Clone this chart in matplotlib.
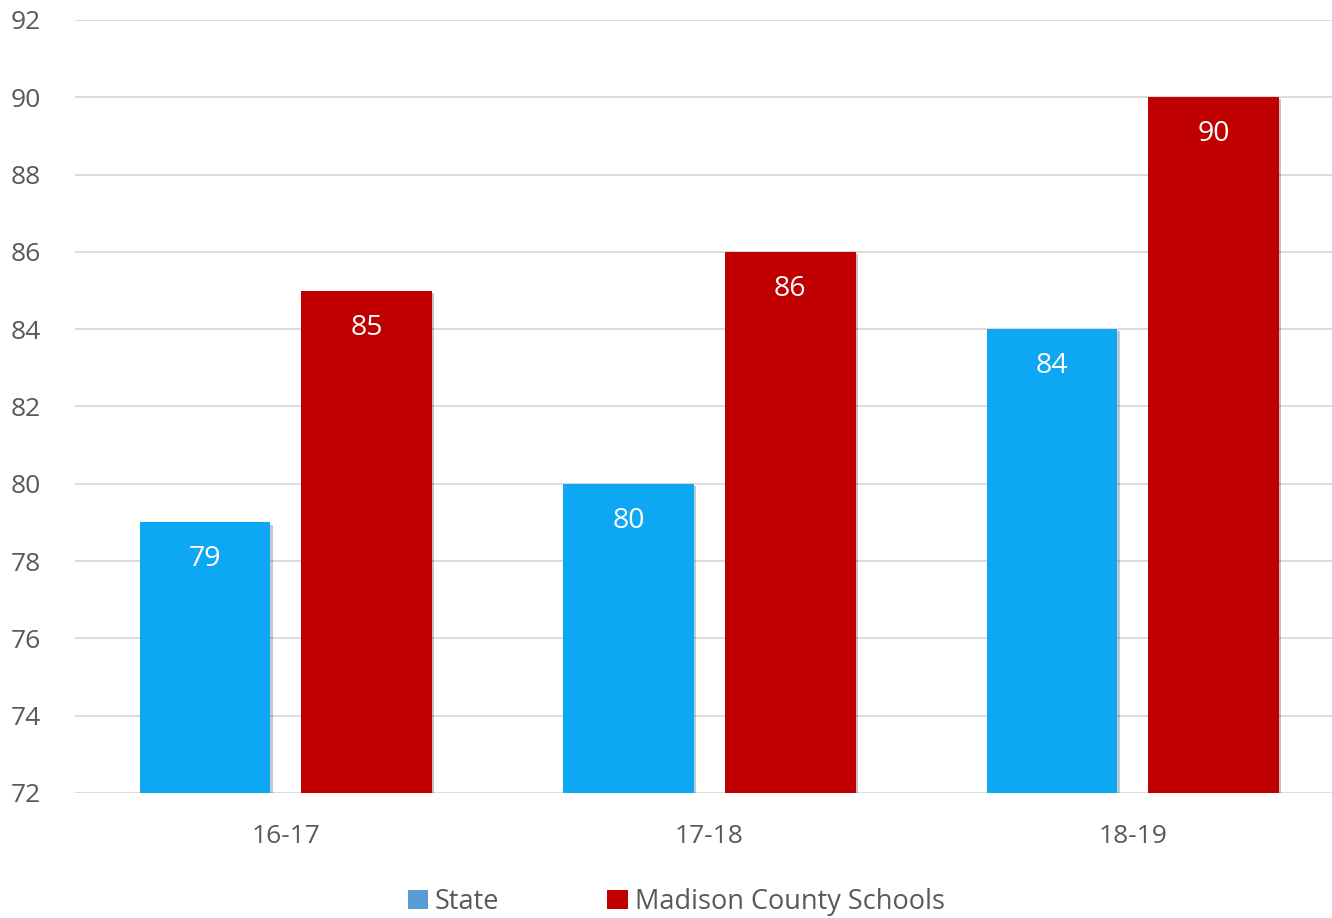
import matplotlib
matplotlib.use("Agg")
import matplotlib.pyplot as plt
import matplotlib.patheffects as pe
from matplotlib.patches import Patch
import numpy as np

categories = ["16-17", "17-18", "18-19"]
state = [79, 80, 84]
madison = [85, 86, 90]
yticks = [72, 74, 76, 78, 80, 82, 84, 86, 88, 90, 92]

plt.rcParams['font.family'] = ['Open Sans', 'DejaVu Sans']

W, H = 1332, 918
fig = plt.figure(figsize=(W/100, H/100), dpi=100)
left, right, top, bottom = 75, 1332, 20, 793
ax = fig.add_axes([left/W, 1-bottom/H, (right-left)/W, (bottom-top)/H])

x = np.arange(len(categories))
bw = 0.309
off = 0.191
blue = "#0EA7F3"
red = "#C00000"
shadow = [pe.SimplePatchShadow(offset=(1.5, -1.5), alpha=0.25), pe.Normal()]
ax.bar(x - off, [s - 72 for s in state], bw, bottom=72, color=blue, zorder=3, path_effects=shadow)
ax.bar(x + off, [m - 72 for m in madison], bw, bottom=72, color=red, zorder=3, path_effects=shadow)

for xs, vals in ((x - off, state), (x + off, madison)):
    for xi, v in zip(xs, vals):
        ax.annotate(str(v), (xi, v), xytext=(0, -37), textcoords="offset pixels",
                    ha="center", va="center", color="white", fontsize=20.5, zorder=4)

ax.set_ylim(72, 92)
ax.set_xlim(-0.498, 2.47)
ax.set_yticks(yticks)
ax.set_xticks(x)
ax.set_xticklabels(categories)
ax.grid(axis="y", color="#D9D9D9", linewidth=1.3, zorder=0)
for s in ax.spines.values():
    s.set_visible(False)
ax.tick_params(axis="both", length=0, labelsize=19, colors="#595959")
for lab in ax.get_yticklabels():
    lab.set_horizontalalignment("left")
ax.yaxis.set_tick_params(pad=(75 - 11) * 0.72)
ax.xaxis.set_tick_params(pad=22)

handles = [Patch(facecolor="#5B9BD5", label="State"), Patch(facecolor=red, label="Madison County Schools")]
leg = fig.legend(handles=handles, loc="center", bbox_to_anchor=(676/W, 1-902/H), ncol=2, frameon=False,
                 fontsize=19.5, handlelength=0.75, handleheight=0.75, handletextpad=0.25, columnspacing=4.0,
                 borderpad=0, borderaxespad=0)
for t in leg.get_texts():
    t.set_color("#595959")

fig.savefig("out.png", dpi=100, facecolor="white")
